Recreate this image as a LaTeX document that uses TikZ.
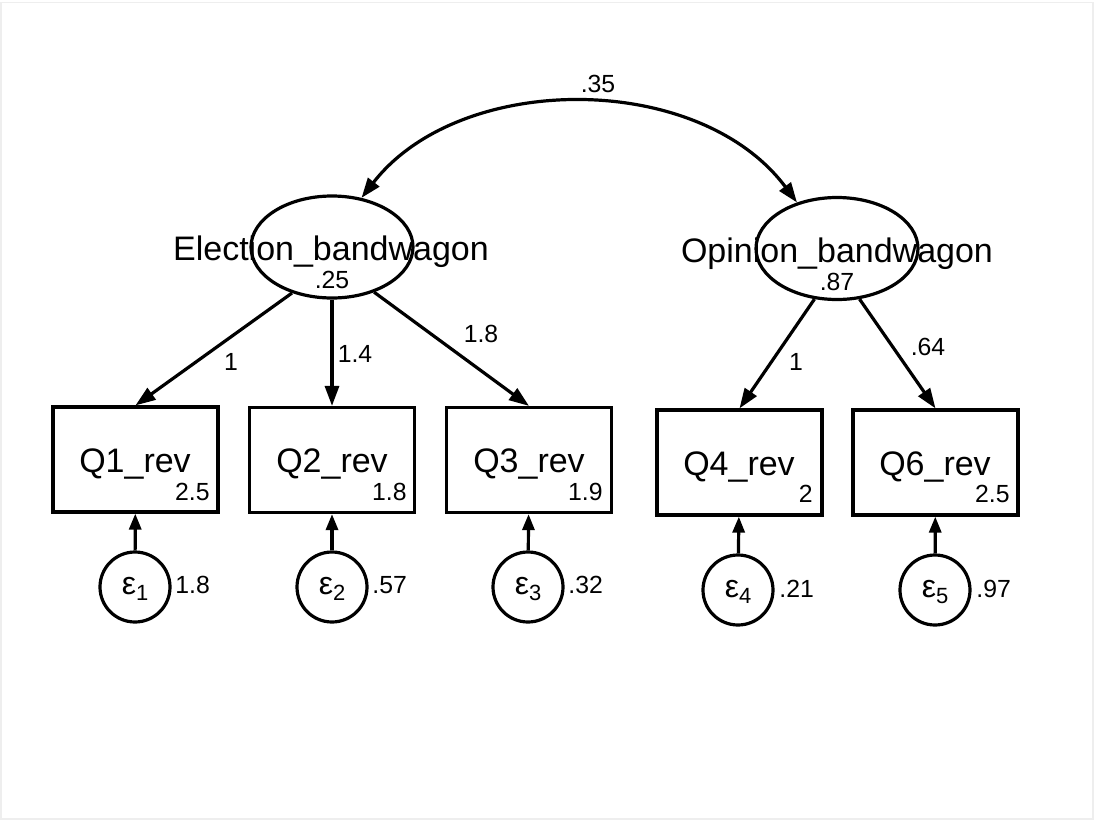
\documentclass[tikz,border=0pt]{standalone}
\usepackage{fontspec}
\setmainfont{Liberation Sans}
\usetikzlibrary{shapes.geometric,arrows.meta}
\definecolor{framegray}{HTML}{EEEEEE}
\tikzset{
  lat/.style={ellipse, draw, line width=1.6pt, minimum width=81pt, minimum height=51pt, inner sep=0pt},
  obs/.style={rectangle, draw, line width=1.6pt, minimum width=82.5pt, minimum height=52.5pt, inner sep=0pt},
  err/.style={circle, draw, line width=1.6pt, minimum size=35pt, inner sep=0pt},
  bigtxt/.style={font=\fontsize{17pt}{19pt}\selectfont, inner sep=0pt},
  smalltxt/.style={font=\fontsize{12.4pt}{14pt}\selectfont, inner sep=0pt},
  path/.style={line width=1.6pt, -{Triangle[length=10pt,width=7pt]}},
  epath/.style={line width=1.6pt, -{Triangle[length=8pt,width=6pt]}},
  cov/.style={line width=1.6pt, {Triangle[length=10pt,width=7pt]}-{Triangle[length=10pt,width=7pt]}}
}
\newcommand{\epsl}[1]{{\fontsize{16pt}{18pt}\selectfont ε}\raisebox{-3pt}{\fontsize{11pt}{12pt}\selectfont #1}}
\begin{document}
\begin{tikzpicture}[x=0.5pt,y=-0.5pt]
\useasboundingbox (0,0) rectangle (1094,820);
\draw[framegray, line width=0.6pt] (1,2.5) rectangle (1093,819);

% latent variables
\node[lat] (E) at (332,247) {};
\node[lat] (O) at (837,248.5) {};
\node[bigtxt, anchor=base] (Elab) at (331,260) {Election\_bandwagon};
\node[smalltxt, anchor=base] (Evar) at (332,288) {.25};
\node[bigtxt, anchor=base] (Olab) at (837,262) {Opinion\_bandwagon};
\node[smalltxt, anchor=base] (Ovar) at (837,290) {.87};

% observed variables
\node[obs] (Q1) at (135.5,459.5) {};
\node[obs] (Q2) at (332,460) {};
\node[obs] (Q3) at (529,460) {};
\node[obs] (Q4) at (739.5,462.5) {};
\node[obs] (Q6) at (935.5,462.5) {};

\node[bigtxt, anchor=base] (Q1t) at (135,472) {Q1\_rev};
\node[bigtxt, anchor=base] (Q2t) at (332,472) {Q2\_rev};
\node[bigtxt, anchor=base] (Q3t) at (529,472) {Q3\_rev};
\node[bigtxt, anchor=base] (Q4t) at (739,475) {Q4\_rev};
\node[bigtxt, anchor=base] (Q6t) at (935,475) {Q6\_rev};

\node[smalltxt, anchor=base east] (Q1n) at (210,500) {2.5};
\node[smalltxt, anchor=base east] (Q2n) at (407,500) {1.8};
\node[smalltxt, anchor=base east] (Q3n) at (603,500) {1.9};
\node[smalltxt, anchor=base east] (Q4n) at (813,502) {2};
\node[smalltxt, anchor=base east] (Q6n) at (1010,502) {2.5};

% error terms
\node[err] (e1) at (135,587) {};
\node[err] (e2) at (332,587) {};
\node[err] (e3) at (528,587) {};
\node[err] (e4) at (738,590) {};
\node[err] (e5) at (935,590) {};
\node[inner sep=0pt] (e1t) at (135,589) {\epsl{1}};
\node[inner sep=0pt] (e2t) at (332,589) {\epsl{2}};
\node[inner sep=0pt] (e3t) at (528,589) {\epsl{3}};
\node[inner sep=0pt] (e4t) at (738,592) {\epsl{4}};
\node[inner sep=0pt] (e5t) at (935,592) {\epsl{5}};

\node[smalltxt, anchor=base west] (e1n) at (175,593) {1.8};
\node[smalltxt, anchor=base west] (e2n) at (372,593) {.57};
\node[smalltxt, anchor=base west] (e3n) at (568,593) {.32};
\node[smalltxt, anchor=base west] (e4n) at (779,597) {.21};
\node[smalltxt, anchor=base west] (e5n) at (976,597) {.97};

% loadings
\draw[path] (E.229) -- (Q1.north);
\draw[path] (E.south) -- (Q2.north);
\draw[path] (E.313) -- (Q3.north);
\draw[path] (O.246) -- (Q4.north);
\draw[path] (O.294) -- (Q6.north);

\node[smalltxt] (l1) at (231,362) {1};
\node[smalltxt] (l2) at (355,354) {1.4};
\node[smalltxt] (l3) at (481,334) {1.8};
\node[smalltxt] (l4) at (796,362) {1};
\node[smalltxt] (l6) at (928,347) {.64};

% error paths
\draw[epath] (e1) -- (Q1);
\draw[epath] (e2) -- (Q2);
\draw[epath] (e3) -- (Q3);
\draw[epath] (e4) -- (Q4);
\draw[epath] (e5) -- (Q6);

% covariance
\draw[cov] (E.59) .. controls (460,71) and (699,71) .. (O.131);
\node[smalltxt] (cv) at (598,84) {.35};
\end{tikzpicture}
\end{document}
